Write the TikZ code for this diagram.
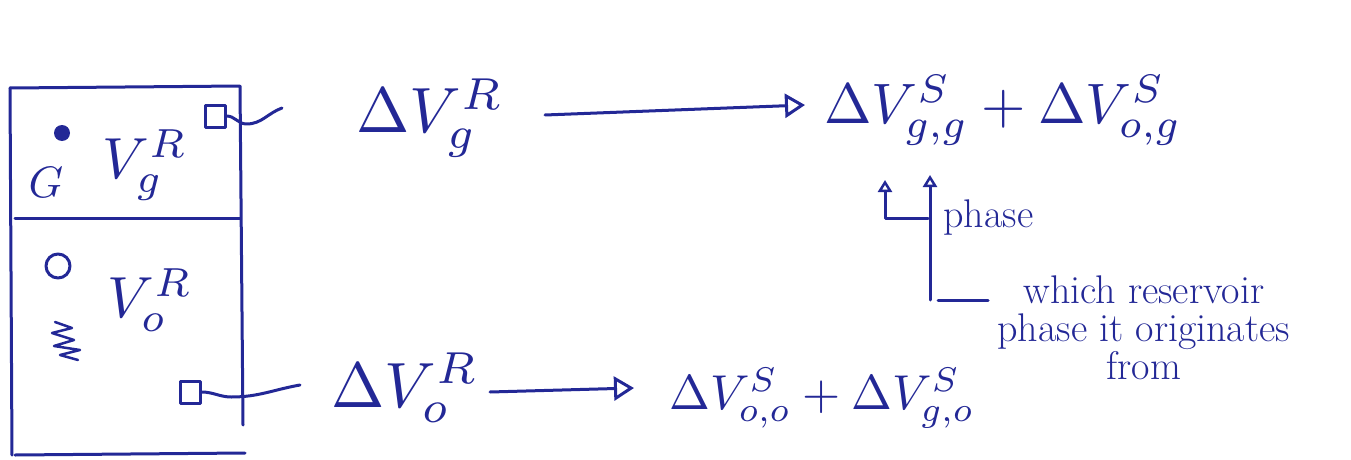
\documentclass[tikz,border=0pt]{standalone}
\usetikzlibrary{arrows.meta}
\definecolor{ink}{RGB}{35,40,150}
\newcommand{\hugemath}[2]{\scalebox{#1}{$#2$}}
\begin{document}
\begin{tikzpicture}[x=1pt,y=-1pt, draw=ink, line width=3pt, line cap=round, line join=round,
  lbl/.style={text=ink, inner sep=0pt},
  note/.style={text=ink, inner sep=0pt, font=\fontsize{40}{44}\selectfont},
  port/.style={draw=ink, line width=3pt, minimum width=20pt, minimum height=22pt, inner sep=0pt},
  arr/.style={-{Triangle[open,length=20pt,width=24pt,line width=3pt]}},
  uparr/.style={-{Triangle[open,length=12pt,width=14pt,line width=2.5pt]}}]
\useasboundingbox (0,0) rectangle (1351,460);
% reservoir box
\draw (10,88) -- (240,86) -- (243,425);
\draw (10,88) -- (12,455);
\draw (15,455) -- (245,453);
\draw (15,218) -- (240,218);
% top compartment
\fill[ink] (62,133) circle (8);
\node[lbl] (G) at (46,182) {\hugemath{4.4}{G}};
\node[lbl] (VgR) at (145,165) {\hugemath{5.8}{V_g^{R}}};
\node[port] (sq1) at (215,116) {};
% bottom compartment
\draw (58,266) circle (12);
\draw[line width=2.5pt] (55,322) -- (72,328) -- (52,333) -- (74,340) -- (54,346) -- (80,350) -- (60,355) -- (78,360);
\node[lbl] (VoR) at (150,300) {\hugemath{5.8}{V_o^{R}}};
\node[port] (sq2) at (190,392) {};
% top row
\node[lbl] (dVg) at (430,118) {\hugemath{6.4}{\Delta V_g^{R}}};
\node[lbl] (sumTop) at (1003,110) {\hugemath{5.7}{\Delta V^{S}_{g,g} + \Delta V^{S}_{o,g}}};
\coordinate (w1) at (282,108);
\draw (sq1.east) to[out=0,in=180] ++(20,8) to[out=0,in=200] (w1);
\coordinate (a1) at (545,115);
\coordinate (a2) at (805,105);
\draw[arr] (a1) -- (a2);
% bottom row
\node[lbl] (dVo) at (405,388) {\hugemath{6.4}{\Delta V_o^{R}}};
\node[lbl] (sumBot) at (822,398) {\hugemath{4.9}{\Delta V^{S}_{o,o} + \Delta V^{S}_{g,o}}};
\coordinate (w2) at (300,385);
\draw (sq2.east) to[out=0,in=180] ++(30,5) to[out=0,in=190] (w2);
\coordinate (b1) at (490,392);
\coordinate (b2) at (634,388);
\draw[arr] (b1) -- (b2);
% phase annotations
\coordinate (root) at (930,300);
\coordinate (tipA) at (930,175);
\coordinate (bend) at (885,218);
\coordinate (tipB) at (885,180);
\draw[uparr] (root) -- (tipA);
\draw[uparr] (928,218) -- (bend) -- (tipB);
\node[note, anchor=west] (phase) at (942,218) {phase};
\node[note, align=center, anchor=north west] (which) at (996,274) {which reservoir\\[-6pt]phase it originates\\[-6pt]from};
\draw (root) ++(8,0) -- ([xshift=-8pt]which.north west |- root);
\end{tikzpicture}
\end{document}
